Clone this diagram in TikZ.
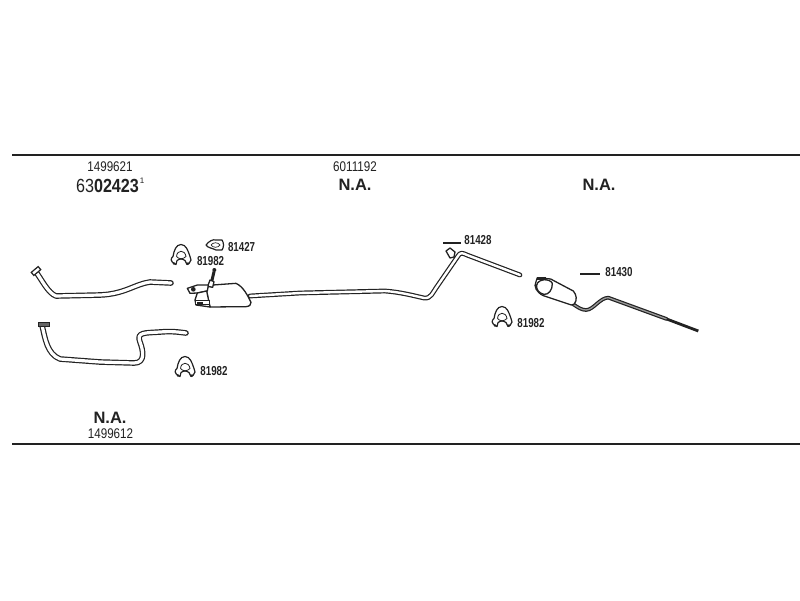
\documentclass[tikz,border=0pt]{standalone}
\usepackage{graphicx}
\usepackage{fontspec}
\setmainfont{Liberation Sans}
\newcommand{\narrowtxt}[2]{\scalebox{#1}[1]{#2}}
\tikzset{
  pipeline/.style={draw=ink,double=white,line width=1.2pt,double distance=2.4pt,line join=round,line cap=round},
  widepipe/.style={pipeline,double distance=3.2pt},
  thinpipe/.style={draw=ink,double=pipegrey,line width=1.2pt,double distance=1.3pt,line join=round,line cap=round},
  rail/.style={draw=ink,line width=1.6pt},
  outline/.style={draw=ink,line width=1.3pt,fill=white,line join=round},
  tagbar/.style={draw=ink,line width=2.2pt},
  partno/.style={inner sep=0pt,font=\fontsize{14}{14}\selectfont,text=ink},
  smallno/.style={inner sep=0pt,font=\bfseries\fontsize{13}{13}\selectfont,text=ink},
  nalabel/.style={inner sep=0pt,font=\bfseries\fontsize{16.5}{16.5}\selectfont,text=ink},
  clampicon/.pic={
    \draw[ink,line width=1.2pt,line join=round,fill=white]
      (-7,9) .. controls (-10,7) and (-11,4) .. (-8,2)
      .. controls (-7,-4) and (-5,-10) .. (0,-10)
      .. controls (5,-10) and (7,-4) .. (9,2)
      .. controls (11,4) and (10,7) .. (8,9)
      -- (6,10) -- (4,6) .. controls (1,4) and (-1,4) .. (-4,6) -- (-5,10) -- cycle;
    \draw[ink,line width=0.8pt] (-4.5,2) .. controls (-4,-5) and (4,-5) .. (5,2) .. controls (2,5) and (-2,5) .. (-4.5,2);
    \fill[ink] (-7,9) circle (1.4) (7,9) circle (1.4);
  }
}
\definecolor{ink}{HTML}{222222}
\definecolor{pipegrey}{HTML}{999999}
\begin{document}
\begin{tikzpicture}[x=1pt,y=-1pt]
\useasboundingbox[fill=white] (0,0) rectangle (800,600);
% frame rules
\coordinate (railTopA) at (12,155);
\coordinate (railTopB) at (800,155);
\coordinate (railBotA) at (12,444);
\coordinate (railBotB) at (800,444);
\draw[rail] (railTopA) -- (railTopB);
\draw[rail] (railBotA) -- (railBotB);
% header labels
\node[partno] (hA) at (110,167) {\narrowtxt{0.83}{1499621}};
\node[partno] (hB) at (355,167) {\narrowtxt{0.83}{6011192}};
\node[inner sep=0pt,text=ink,font=\fontsize{19}{19}\selectfont] (hC) at (107.5,185.5) {\narrowtxt{0.85}{63\textbf{02423}}};
\node[inner sep=0pt,text=ink,font=\fontsize{8}{8}\selectfont] (hD) at (142,181) {1};
\node[nalabel] (naA) at (355,185) {N.A.};
\node[nalabel] (naB) at (599,185) {N.A.};
\node[nalabel] (naC) at (110,418) {N.A.};
\node[partno] (hE) at (110.5,434) {\narrowtxt{0.83}{1499612}};
% top-left pipe
\draw[widepipe] (36,272) .. controls (42,280) and (48,293) .. (56,296)
  -- (100,295) .. controls (125,294) and (135,284) .. (150,282) -- (171,283);
\draw[ink,line width=1.2pt,fill=white,rotate around={40:(36,271)}] (31.5,269) rectangle (40.5,273);
% lower-left pipe
\draw[widepipe] (42,325) .. controls (45,338) and (47,354) .. (60,359)
  -- (100,362) -- (134,363) .. controls (146,363) and (143,350) .. (140,342)
  .. controls (136,332) and (145,333) .. (160,332) .. controls (172,331) and (178,332) .. (186,333);
\draw[ink,line width=1pt,fill=ink!70] (38,322.5) rectangle (49,326.5);
% middle pipe
\draw[pipeline] (250,296) -- (300,293) -- (385,291) .. controls (400,292) and (415,296) .. (424,298)
  .. controls (431,299) and (433,292) .. (436,288) -- (458,256) .. controls (460,252) and (463,253) .. (467,255) -- (520,275);
% first muffler
\begin{scope}[shift={(160,225)},x=0.3333pt,y=-0.3333pt]
\draw[ink,line width=3pt] (155,170) -- (162,140);
\fill[ink] (163,135) circle (6);
\draw[outline] (145,181) -- (228,175) .. controls (250,185) and (262,210) .. (273,232)
  .. controls (274,240) and (268,244) .. (258,245) -- (150,246) -- (140,200) -- cycle;
\draw[outline] (143,184) -- (150,165) -- (162,170) -- (158,187) -- cycle;
\draw[outline] (82,190) -- (112,180) -- (145,180) -- (142,198) -- (112,204) -- (90,205) -- cycle;
\fill[ink] (100,193) circle (7);
\draw[outline] (112,204) -- (140,198) -- (150,246) -- (108,240) -- (105,225) -- cycle;
\draw[ink,fill=white,line width=1pt] (108,228) rectangle (148,240);
\fill[ink] (110,232) rectangle (130,236);
\end{scope}
% second muffler and tail
\begin{scope}[shift={(480,255)},x=0.3333pt,y=-0.3333pt]
\draw[thinpipe] (280,148) .. controls (295,158) and (305,165) .. (318,165)
  .. controls (340,165) and (360,128) .. (385,128) -- (560,192);
\draw[ink,line width=2.8pt] (560,192) -- (655,228);
\draw[outline] (172,68) -- (212,72) -- (280,108) .. controls (290,120) and (292,135) .. (283,147)
  -- (274,150) -- (190,122) .. controls (170,112) and (160,95) .. (168,80) -- cycle;
\draw[outline] (170,90) .. controls (175,70) and (210,70) .. (217,85) .. controls (218,105) and (205,120) .. (192,118)
  .. controls (178,115) and (168,105) .. (170,90) -- cycle;
\fill[ink] (172,66) rectangle (198,76);
\end{scope}
% small flange on the middle pipe
\draw[outline] (446,251) -- (450,248) -- (455,252) -- (454,257) -- (450,258) -- cycle;
% gasket
\draw[ink,line width=1.2pt,fill=white,line join=round]
  (206,245) .. controls (209,241) and (213,239) .. (216,240) -- (222,240)
  .. controls (224,243) and (224,247) .. (222,250) -- (216,250) .. controls (212,248) and (208,248) .. (206,245) -- cycle;
\draw[ink,line width=0.7pt] (211,245) .. controls (213,242) and (218,242) .. (220,245) .. controls (218,248) and (213,248) .. (211,245);
% clamps
\pic at (181,254.5) {clampicon};
\pic at (185,366.5) {clampicon};
\pic at (502,316.5) {clampicon};
% tag bars
\coordinate (barAa) at (443,243);
\coordinate (barAb) at (461,243);
\coordinate (barBa) at (580,274);
\coordinate (barBb) at (600,274);
\draw[tagbar] (barAa) -- (barAb);
\draw[tagbar] (barBa) -- (barBb);
% part numbers
\node[smallno] (n1) at (241.6,246.7) {\narrowtxt{0.75}{81427}};
\node[smallno] (n2) at (210.6,260.6) {\narrowtxt{0.75}{81982}};
\node[smallno] (n3) at (214,371) {\narrowtxt{0.75}{81982}};
\node[smallno] (n4) at (531,322.7) {\narrowtxt{0.75}{81982}};
\node[smallno] (n5) at (478,240) {\narrowtxt{0.75}{81428}};
\node[smallno] (n6) at (619,271.6) {\narrowtxt{0.75}{81430}};
\end{tikzpicture}
\end{document}
